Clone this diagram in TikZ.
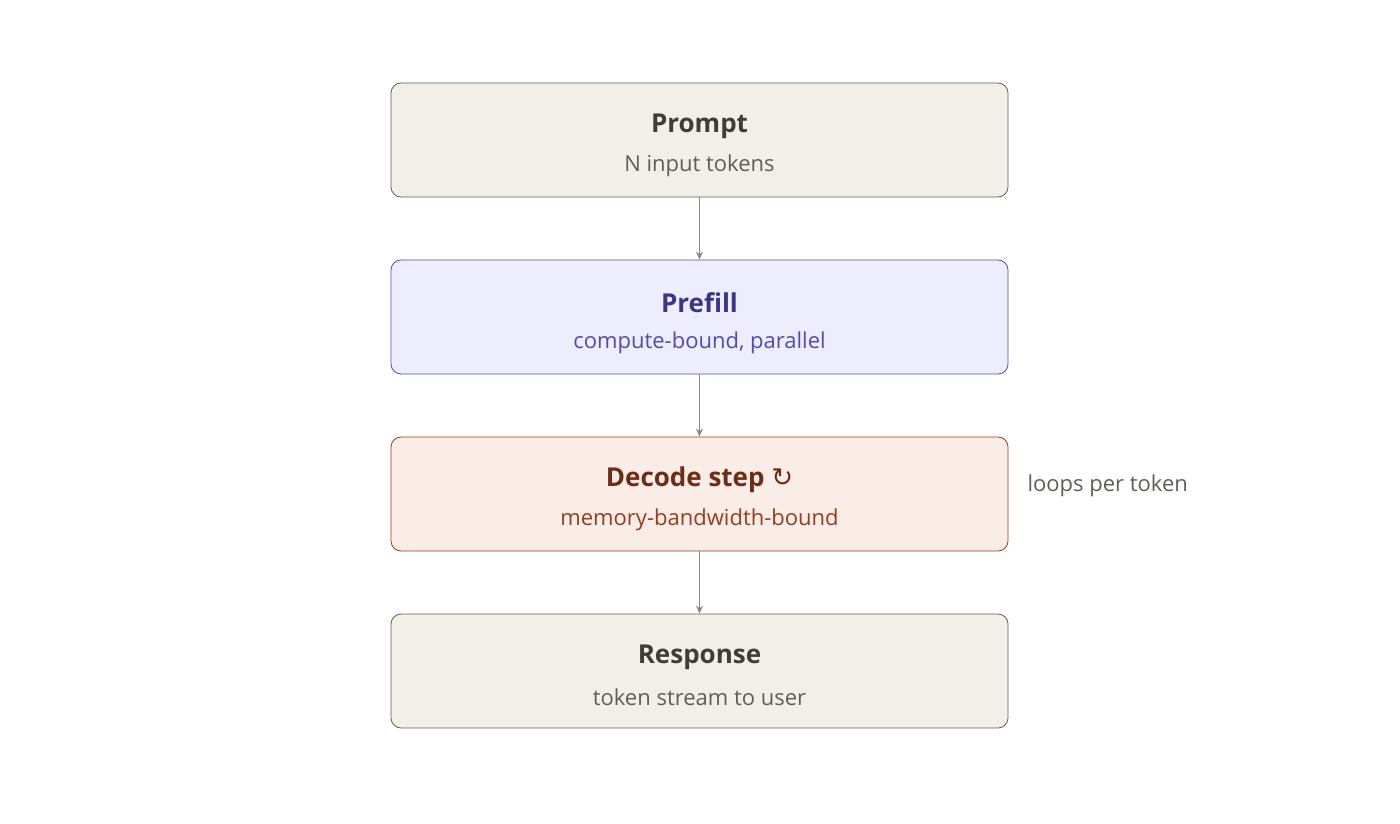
\documentclass[tikz,border=0pt]{standalone}
\usepackage{fontspec}
\setmainfont{Open Sans}
\newfontfamily\symf{DejaVu Sans}
\usetikzlibrary{arrows.meta}
\definecolor{gfill}{HTML}{F1EFE8}\definecolor{gline}{HTML}{5F5E5A}\definecolor{gtext}{HTML}{3D3D3A}
\definecolor{pfill}{HTML}{EEEDFE}\definecolor{pline}{HTML}{534AB7}\definecolor{ptext}{HTML}{3C3489}
\definecolor{dfill}{HTML}{FAECE7}\definecolor{dline}{HTML}{993C1D}\definecolor{dtext}{HTML}{712B13}
\definecolor{arr}{HTML}{888780}
\begin{document}
\begin{tikzpicture}[x=1pt,y=1pt,
 box/.style={draw,rounded corners=10pt,minimum width=617pt,minimum height=114pt,line width=0.8pt},
 ttl/.style={font=\fontsize{26}{30}\selectfont\bfseries},
 sub/.style={font=\fontsize{22}{26}\selectfont},
 con/.style={draw=arr,line width=1.3pt,-{Stealth[length=8pt,width=7pt]}}]
\useasboundingbox (0,0) rectangle (1400,-824);
\node[box,draw=gline,fill=gfill] (b1) at (699.5,-140) {};
\node[box,draw=pline,fill=pfill] (b2) at (699.5,-317) {};
\node[box,draw=dline,fill=dfill] (b3) at (699.5,-494) {};
\node[box,draw=gline,fill=gfill] (b4) at (699.5,-671) {};
\node[ttl,text=gtext] (t1) at (699.5,-126) {Prompt};
\node[sub,text=gline] (s1) at (699.5,-166) {N input tokens};
\node[ttl,text=ptext] (t2) at (699.5,-303) {Prefill};
\node[sub,text=pline] (s2) at (699.5,-343) {compute-bound, parallel};
\node[ttl,text=dtext] (t3) at (699.5,-480) {Decode step {\symf\mdseries ↻}};
\node[sub,text=dline] (s3) at (699.5,-520) {memory-bandwidth-bound};
\node[ttl,text=gtext] (t4) at (699.5,-657) {Response};
\node[sub,text=gline] (s4) at (699.5,-697) {token stream to user};
\node[sub,text=gline,anchor=west] (lp) at (1024,-486) {loops per token};
\draw[con] (b1.south) -- (b2.north);
\draw[con] (b2.south) -- (b3.north);
\draw[con] (b3.south) -- (b4.north);
\end{tikzpicture}
\end{document}
